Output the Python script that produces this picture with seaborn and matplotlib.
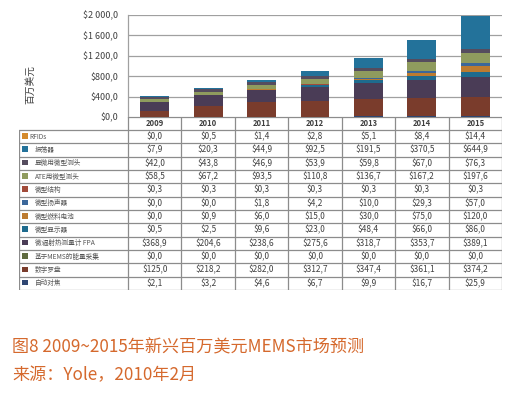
import numpy as np
import pandas as pd
import matplotlib
matplotlib.use('Agg')
from matplotlib import pyplot as plt
from matplotlib.patches import Rectangle
import seaborn as sns

years = [2009, 2010, 2011, 2012, 2013, 2014, 2015]
segments = ['RFIDs', '振荡器', '显微用微型测头', 'ATE用微型测头', '微型结构', '微型扬声器',
            '微型燃料电池', '微型显示器', '微辐射热测量计 FPA', '基于MEMS的能量采集',
            '数字罗盘', '自动对焦']
colors = ['#D48A2C', '#23729A', '#554C5E', '#8F9B5E', '#A24B3A', '#3B679A',
          '#BC7B30', '#1E6B8E', '#4A3C56', '#5E6A3F', '#7A3C2C', '#2F4672']

rfids = [0.0, 0.5, 1.4, 2.8, 5.1, 8.4, 14.4]
oscillators = [7.9, 20.3, 44.9, 92.5, 191.5, 370.5, 644.9]
probe_micro = [42.0, 43.8, 46.9, 53.9, 59.8, 67.0, 76.3]
probe_ate = [58.5, 67.2, 93.5, 110.8, 136.7, 167.2, 197.6]
microstructures = [0.3, 0.3, 0.3, 0.3, 0.3, 0.3, 0.3]
speakers = [0.0, 0.0, 1.8, 4.2, 10.0, 29.3, 57.0]
fuel_cells = [0.0, 0.9, 6.0, 15.0, 30.0, 75.0, 120.0]
displays = [0.5, 2.5, 9.6, 23.0, 48.4, 66.0, 86.0]
bolometer_fpa = [168.9, 204.6, 238.6, 275.6, 318.7, 353.7, 389.1]
energy_harvest = [0.0, 0.0, 0.0, 0.0, 0.0, 0.0, 0.0]
compass = [125.0, 218.2, 282.0, 312.7, 347.4, 361.1, 374.2]
autofocus = [2.1, 3.2, 4.6, 6.7, 9.9, 16.7, 25.9]
series = [rfids, oscillators, probe_micro, probe_ate, microstructures, speakers,
          fuel_cells, displays, bolometer_fpa, energy_harvest, compass, autofocus]
# the source table prints 368,9 for FPA 2009 while the bar uses 168,9
fpa_2009_printed = '$368,9'

yticks = [0, 400, 800, 1200, 1600, 2000]

rows = []
for name, vals in zip(segments, series):
    for y, v in zip(years, vals):
        rows.append({'year': y, 'segment': name, 'value': v})
df = pd.DataFrame(rows)

W, H = 513, 399
sns.set_style('white')
plt.rcParams['font.family'] = ['Noto Sans CJK SC', 'DejaVu Sans']
fig = plt.figure(figsize=(W / 100, H / 100), dpi=100)
grid_c = '#A0A0A0'
txt_c = '#404040'

ax = fig.add_axes([128 / W, 1 - 117 / H, 374 / W, 102 / H])
sns.histplot(data=df, x='year', weights='value', hue='segment', hue_order=segments,
             palette=colors, multiple='stack', discrete=True, shrink=0.54,
             linewidth=0, alpha=1, legend=False, ax=ax)
ax.set_xlim(years[0] - 0.5, years[-1] + 0.5)
ax.set_ylim(0, 2000)
ax.set_yticks(yticks)
ax.set_yticklabels(['${:,.1f}'.format(t).replace(',', ' ').replace('.', ',') for t in yticks],
                   fontsize=6.5, color=txt_c)
ax.set_xticks([])
ax.set_xlabel('')
ax.set_ylabel('')
ax.tick_params(axis='y', length=0, pad=7)
ax.yaxis.grid(True, color=grid_c, linewidth=0.9)
ax.set_axisbelow(True)
for s in ['top', 'right', 'bottom']:
    ax.spines[s].set_visible(False)
ax.spines['left'].set_color(grid_c)
ax.spines['left'].set_linewidth(0.9)
fig.text(30 / W, 1 - 85 / H, '百万美元', rotation=90, ha='center', va='center',
         fontsize=7, color=txt_c)

# data table under the bars
tab = fig.add_axes([19 / W, 1 - 290 / H, 483 / W, 173 / H])
tab.set_xlim(0, 483)
tab.set_ylim(173, 0)
tab.axis('off')
label_w = 109
col_w = (483 - label_w) / len(years)
head_h = 13
row_h = (173 - head_h) / len(segments)
lc = '#8C8C8C'

tab.plot([label_w, 483], [0, 0], color=lc, lw=0.9)
for i in range(len(segments) + 1):
    yy = head_h + i * row_h
    tab.plot([0, 483], [yy, yy], color=lc, lw=0.9)
tab.plot([0, 0], [head_h, 173], color=lc, lw=0.9)
for j in range(len(years) + 1):
    xx = label_w + j * col_w
    tab.plot([xx, xx], [0, 173], color=lc, lw=0.9)

for j, y in enumerate(years):
    tab.text(label_w + (j + 0.5) * col_w, head_h / 2, str(y), ha='center', va='center',
             fontsize=5.5, color=txt_c, fontweight='bold')

for i, (name, vals, c) in enumerate(zip(segments, series, colors)):
    yc = head_h + (i + 0.5) * row_h
    tab.add_patch(Rectangle((3, yc - 3.5), 5.5, 5.5, color=c, lw=0))
    tab.text(10 if name == 'RFIDs' else 16, yc, name, ha='left', va='center',
             fontsize=4.8, color='#555555')
    for j, v in enumerate(vals):
        lab = '${:.1f}'.format(v).replace('.', ',')
        if name == '微辐射热测量计 FPA' and j == 0:
            lab = fpa_2009_printed
        tab.text(label_w + (j + 0.5) * col_w, yc, lab, ha='center', va='center',
                 fontsize=6, color=txt_c)

cap_c = '#D5692D'
fig.text(12 / W, 1 - 347 / H, '图8 2009~2015年新兴百万美元MEMS市场预测', ha='left', va='center',
         fontsize=12.3, color=cap_c)
fig.text(12 / W, 1 - 375 / H, '来源：Yole，2010年2月', ha='left', va='center',
         fontsize=12.3, color=cap_c)

fig.savefig('out.png', dpi=100, facecolor='white')
